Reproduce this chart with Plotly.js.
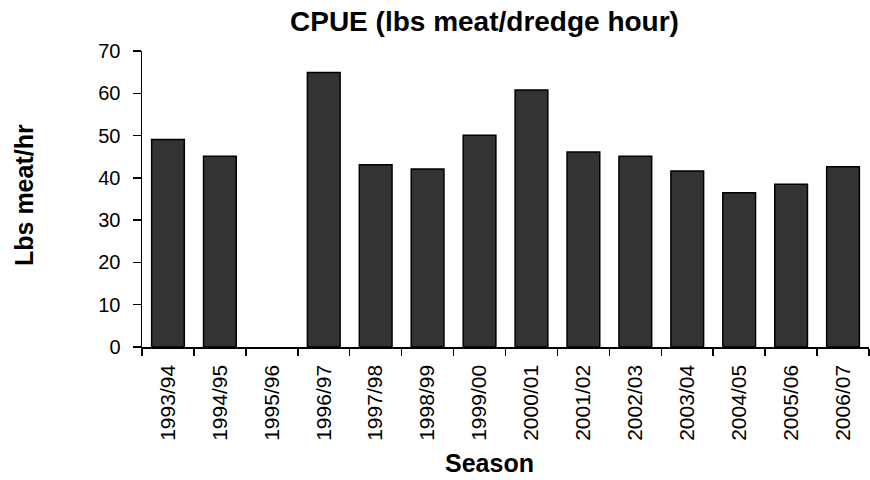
<!DOCTYPE html>
<html><head><meta charset="utf-8">
<script src="https://cdn.plot.ly/plotly-3.0.1.min.js"></script>
<style>html,body{margin:0;padding:0;background:#fff}#c{width:870px;height:480px}</style>
</head><body><div id="c"></div>
<script>
const seasons = ["1993/94","1994/95","1995/96","1996/97","1997/98","1998/99","1999/00","2000/01","2001/02","2002/03","2003/04","2004/05","2005/06","2006/07"];
const cpue = [49.1, 45.1, null, 64.9, 43.1, 42.1, 50.1, 60.8, 46.1, 45.1, 41.6, 36.5, 38.5, 42.6];

const FONT = 'Liberation Sans, Arial, sans-serif';
Plotly.newPlot('c', [{
  type: 'bar', x: seasons, y: cpue,
  marker: {color: '#333333', line: {color: '#000', width: 1.5}},
  width: 0.63
}], {
  width: 870, height: 480,
  margin: {l: 142, r: 1, t: 51, b: 133},
  paper_bgcolor: '#fff', plot_bgcolor: '#fff',
  font: {family: FONT, color: '#000', size: 16},
  xaxis: {
    type: 'category', tickangle: -90, showline: true, linecolor: '#000', linewidth: 1.5,
    ticks: 'outside', tickson: 'boundaries', ticklen: 7, tickcolor: '#000', tickwidth: 1.5,
    showgrid: false, zeroline: false, tickfont: {size: 21}, ticklabelstandoff: 8
  },
  yaxis: {
    range: [0, 70], dtick: 10, showline: true, linecolor: '#000', linewidth: 1.5,
    ticks: 'outside', ticklen: 8, tickcolor: '#000', tickwidth: 1.5,
    showgrid: false, zeroline: false, tickfont: {size: 20}, ticklabelstandoff: 8
  },
  annotations: [
    {text: '<b>CPUE (lbs meat/dredge hour)</b>', xref: 'paper', yref: 'paper',
     x: (484-142)/727, y: (347-22)/296, xanchor: 'center', yanchor: 'middle',
     showarrow: false, font: {size: 28}},
    {text: '<b>Season</b>', xref: 'paper', yref: 'paper',
     x: (489-142)/727, y: (347-463)/296, xanchor: 'center', yanchor: 'middle',
     showarrow: false, font: {size: 25}},
    {text: '<b>Lbs meat/hr</b>', xref: 'paper', yref: 'paper', textangle: -90,
     x: (24-142)/727, y: (347-195)/296, xanchor: 'center', yanchor: 'middle',
     showarrow: false, font: {size: 25}}
  ],
  showlegend: false
}, {displayModeBar: false, staticPlot: true});
</script></body></html>
